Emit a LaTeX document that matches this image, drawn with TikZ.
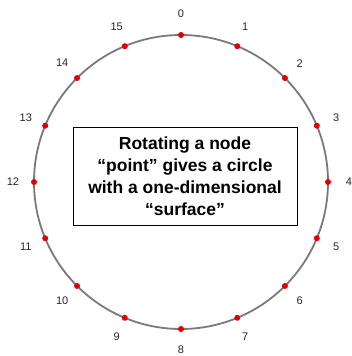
\documentclass[tikz,border=0pt]{standalone}
\usepackage{fontspec}
\setmainfont{Liberation Sans}
\usetikzlibrary{calc}
\definecolor{ringgray}{HTML}{7A7A7A}
\definecolor{dotred}{HTML}{E00000}

\begin{document}
\begin{tikzpicture}[x=1pt, y=1pt,
        ring/.style={draw=ringgray, line width=1.8pt},
        dot/.style={circle, fill=dotred, inner sep=0pt, minimum size=6pt},
        num/.style={font=\fontsize{11}{13}\selectfont, text=black!85, inner sep=0pt},
        note/.style={draw=black, line width=0.8pt, fill=white, align=center,
                     minimum width=224pt, minimum height=98pt, inner sep=1pt,
                     font=\bfseries\fontsize{17.5}{22}\selectfont}
      ]
        \useasboundingbox (0,0) rectangle (352,356);
        \coordinate (c) at (181,174);
        \draw[ring] (c) circle[radius=147];

        \foreach \k in {0,...,15} {
          \node[dot] (p\k) at ($(c)+({90-22.5*\k}:147)$) {};
          \node[num] (n\k) at ($(c)+({90-22.5*\k}:168)$) {\k};
        }

        \node[note] (txt) at (185,180) {Rotating a node\\“point” gives a circle\\with a one-dimensional\\“surface”};
      \end{tikzpicture}
\end{document}
